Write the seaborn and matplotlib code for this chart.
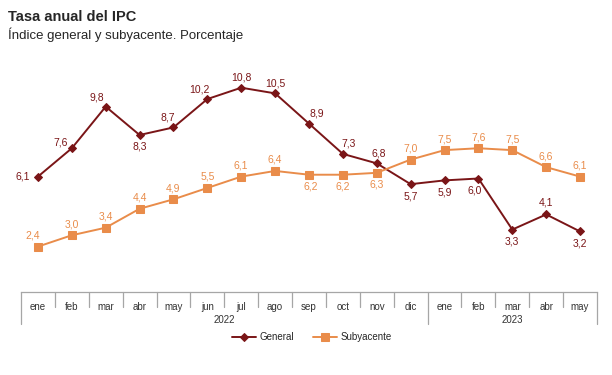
import pandas as pd
import seaborn as sns
import matplotlib.pyplot as plt
from matplotlib.lines import Line2D

months = ["ene", "feb", "mar", "abr", "may", "jun", "jul", "ago", "sep", "oct", "nov", "dic",
          "ene", "feb", "mar", "abr", "may"]
years = ["2022", "2023"]
year_counts = [12, 5]
general = [6.1, 7.6, 9.8, 8.3, 8.7, 10.2, 10.8, 10.5, 8.9, 7.3, 6.8, 5.7, 5.9, 6.0, 3.3, 4.1, 3.2]
subyacente = [2.4, 3.0, 3.4, 4.4, 4.9, 5.5, 6.1, 6.4, 6.2, 6.2, 6.3, 7.0, 7.5, 7.6, 7.5, 6.6, 6.1]

# where each value label sits relative to its point (pixels)
general_offsets = [(-15, 0), (-11, 6), (-9, 9), (0, -12), (-6, 10), (-8, 10), (0, 10), (0, 10),
                   (8, 10), (6, 10), (2, 10), (0, -12), (0, -12), (-4, -12), (0, -12), (0, 12), (0, -12)]
sub_offsets = [(-5, 11), (0, 11), (0, 11), (0, 11), (0, 11), (0, 11), (0, 11), (0, 11),
               (2, -12), (0, -12), (0, -12), (0, 11), (0, 11), (0, 11), (0, 11), (0, 11), (0, 11)]

RED = "#7a1517"
ORANGE = "#e98c4a"
GRID = "#a6a6a6"

sns.set_style("white")
plt.rcParams["font.family"] = ["Liberation Sans", "DejaVu Sans"]

df = pd.DataFrame({"pos": range(len(months)), "General": general, "Subyacente": subyacente})

fig = plt.figure(figsize=(6.12, 3.75), dpi=100)
ax = fig.add_axes([21 / 612, 1 - 292 / 375, 576 / 612, 227 / 375])

sns.lineplot(data=df, x="pos", y="General", ax=ax, color=RED, marker="D", markersize=4.5,
             markeredgecolor=RED, linewidth=1.4, label="General")
sns.lineplot(data=df, x="pos", y="Subyacente", ax=ax, color=ORANGE, marker="s", markersize=6,
             markeredgecolor=ORANGE, linewidth=1.4, label="Subyacente")

for i, v in enumerate(general):
    ax.annotate(f"{v:.1f}".replace(".", ","), (i, v), xytext=general_offsets[i],
                textcoords="offset pixels", ha="center", va="center", fontsize=7.5, color=RED)
for i, v in enumerate(subyacente):
    ax.annotate(f"{v:.1f}".replace(".", ","), (i, v), xytext=sub_offsets[i],
                textcoords="offset pixels", ha="center", va="center", fontsize=7.5, color=ORANGE)

ax.set_xlim(-0.5, len(months) - 0.5)
ax.set_ylim(0, 12)
ax.set_yticks([])
ax.set_xticks(range(len(months)))
ax.set_xticklabels(months, fontsize=7, color="#333333")
ax.tick_params(axis="x", length=0, pad=7)
ax.set_xlabel("")
ax.set_ylabel("")
for side in ["top", "left", "right"]:
    ax.spines[side].set_visible(False)
ax.spines["bottom"].set_color(GRID)
ax.spines["bottom"].set_linewidth(0.9)

# category box below the axis
trans = ax.get_xaxis_transform()
bounds = [0]
for c in year_counts:
    bounds.append(bounds[-1] + c)
for k in range(len(months) + 1):
    depth = 32 / 227 if k in bounds else 15 / 227
    ax.add_line(Line2D([k - 0.5, k - 0.5], [0, -depth], transform=trans, color=GRID,
                       linewidth=0.9, clip_on=False))
for j, yr in enumerate(years):
    mid = (bounds[j] + bounds[j + 1] - 1) / 2
    ax.annotate(yr, (mid, 0), xycoords=("data", "axes fraction"), xytext=(0, -28),
                textcoords="offset pixels", ha="center", va="center", fontsize=7, color="#333333")

ax.legend(loc="center", bbox_to_anchor=(312 / 612, 1 - 337 / 375), bbox_transform=fig.transFigure,
          ncol=2, frameon=False, fontsize=7, handlelength=2.4, columnspacing=2, handletextpad=0.4)

fig.text(8 / 612, 1 - 17 / 375, "Tasa anual del IPC", fontsize=10.5, fontweight="bold", va="center")
fig.text(8 / 612, 1 - 35 / 375, "Índice general y subyacente. Porcentaje", fontsize=9.5, va="center")

fig.savefig("out.png", dpi=100)
